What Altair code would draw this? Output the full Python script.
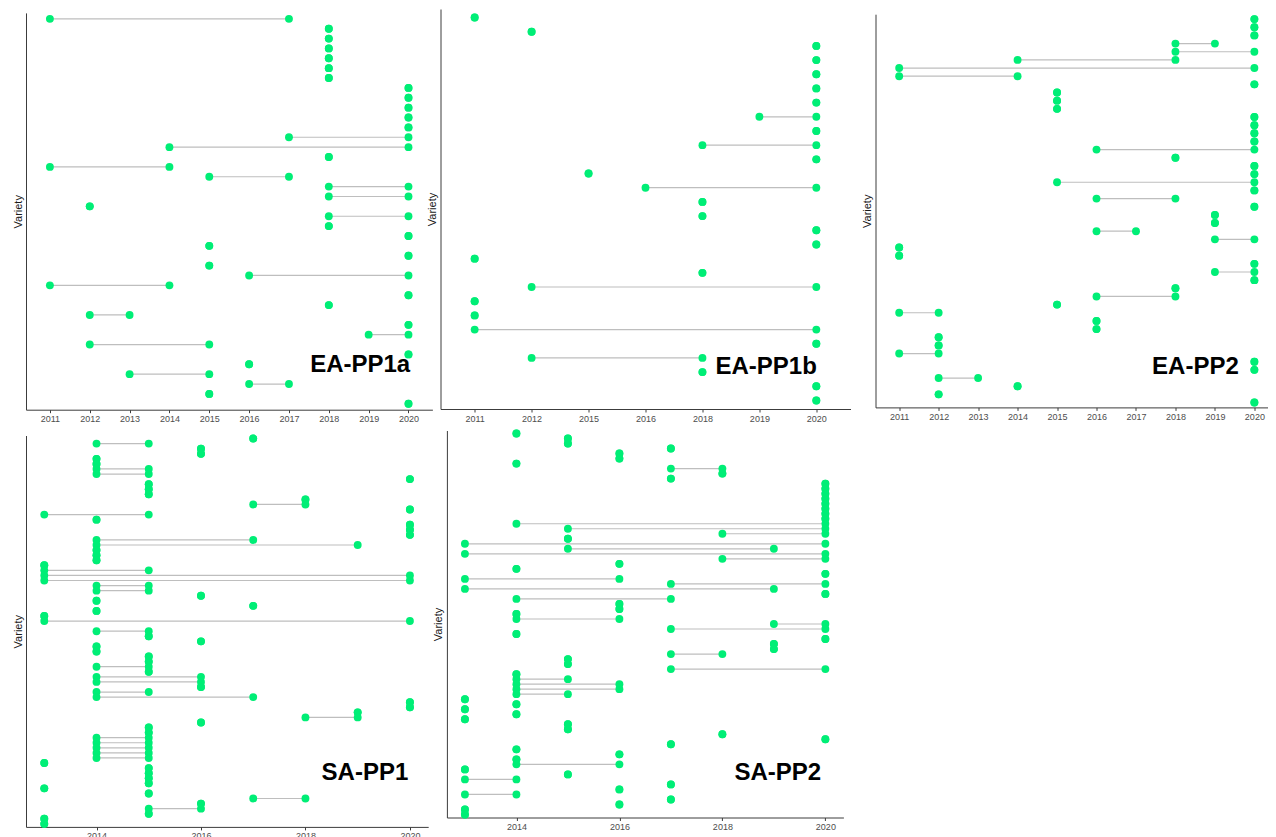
import altair as alt
import pandas as pd

# ---------------- data: first / last year of each variety (top row first) ----------------
ea1a_first = [2011, 2018, 2018, 2018, 2018, 2018, 2018, 2020, 2020, 2020,
              2020, 2020, 2017, 2014, 2018, 2011, 2015, 2018, 2018, 2012,
              2018, 2018, 2020, 2015, 2020, 2015, 2016, 2011, 2020, 2018,
              2012, 2020, 2019, 2012, 2020, 2016, 2013, 2016, 2015, 2020]
ea1a_last = [2017, 2018, 2018, 2018, 2018, 2018, 2018, 2020, 2020, 2020,
             2020, 2020, 2020, 2020, 2018, 2014, 2017, 2020, 2020, 2012,
             2020, 2018, 2020, 2015, 2020, 2015, 2020, 2014, 2020, 2018,
             2013, 2020, 2020, 2015, 2020, 2016, 2015, 2017, 2015, 2020]

ea1b_first = [2011, 2012, 2020, 2020, 2020, 2020, 2020, 2019, 2020, 2018,
              2020, 2015, 2016, 2018, 2018, 2020, 2020, 2011, 2018, 2012,
              2011, 2011, 2011, 2020, 2012, 2018, 2020, 2020]
ea1b_last = [2011, 2012, 2020, 2020, 2020, 2020, 2020, 2020, 2020, 2020,
             2020, 2015, 2020, 2018, 2018, 2020, 2020, 2011, 2018, 2020,
             2011, 2011, 2020, 2020, 2018, 2018, 2020, 2020]

ea2_first = [2020, 2020, 2020, 2018, 2018, 2014, 2011, 2011, 2020, 2015,
             2015, 2015, 2020, 2020, 2020, 2020, 2016, 2018, 2020, 2020,
             2015, 2020, 2016, 2020, 2019, 2019, 2016, 2019, 2011, 2011,
             2020, 2019, 2020, 2018, 2016, 2015, 2011, 2016, 2016, 2012,
             2012, 2011, 2020, 2020, 2012, 2014, 2012, 2020]
ea2_last = [2020, 2020, 2020, 2019, 2020, 2018, 2020, 2014, 2020, 2015,
            2015, 2015, 2020, 2020, 2020, 2020, 2020, 2018, 2020, 2020,
            2020, 2020, 2018, 2020, 2019, 2019, 2017, 2020, 2011, 2011,
            2020, 2020, 2020, 2018, 2018, 2015, 2012, 2016, 2016, 2012,
            2012, 2012, 2020, 2020, 2013, 2014, 2012, 2020]

sa1_first = [2017, 2014, 2016, 2016, 2014, 2014, 2014, 2014, 2020, 2015,
             2015, 2015, 2018, 2017, 2020, 2013, 2014, 2020, 2020, 2020,
             2014, 2014, 2014, 2014, 2014, 2013, 2013, 2013, 2013, 2014,
             2014, 2016, 2014, 2017, 2014, 2013, 2013, None, 2014, 2015,
             2016, 2014, 2014, 2015, 2015, 2014, 2015, 2014, 2014, 2016,
             2014, 2014, 2020, 2020, 2019, 2018, 2016, 2015, 2015, 2014,
             2014, 2014, 2014, 2014, 2013, 2015, 2015, 2015, 2015, 2013,
             2015, 2017, 2016, 2015, 2015, 2013, 2013]
sa1_last = [2017, 2015, 2016, 2016, 2014, 2014, 2015, 2015, 2020, 2015,
            2015, 2015, 2018, 2018, 2020, 2015, 2014, 2020, 2020, 2020,
            2017, 2019, 2014, 2014, 2014, 2013, 2015, 2020, 2020, 2015,
            2015, 2016, 2014, 2017, 2014, 2013, 2020, None, 2015, 2015,
            2016, 2014, 2014, 2015, 2015, 2015, 2015, 2016, 2016, 2016,
            2015, 2017, 2020, 2020, 2019, 2019, 2016, 2015, 2015, 2015,
            2015, 2015, 2015, 2015, 2013, 2015, 2015, 2015, 2015, 2013,
            2015, 2018, 2016, 2016, 2015, 2013, 2013]

sa2_first = [2014, 2015, 2015, 2017, 2016, 2016, 2014, 2017, 2018, 2017,
             2020, 2020, 2020, 2020, 2020, 2020, 2020, 2020, 2014, 2015,
             2018, 2015, 2013, 2015, 2013, 2018, 2016, 2014, 2020, 2013,
             2017, 2013, 2020, 2014, 2016, 2016, 2014, 2014, 2019, 2017,
             2014, 2020, 2019, 2019, 2017, 2015, 2015, 2017, 2014, 2014,
             2014, 2014, 2014, 2013, 2014, 2013, 2014, 2013, 2015, 2015,
             2018, 2020, 2017, 2014, 2016, 2014, 2014, 2013, 2015, 2013,
             2017, 2016, 2013, 2017, 2016, 2013, 2013]
sa2_last = [2014, 2015, 2015, 2017, 2016, 2016, 2014, 2018, 2018, 2017,
            2020, 2020, 2020, 2020, 2020, 2020, 2020, 2020, 2020, 2020,
            2020, 2015, 2020, 2019, 2020, 2020, 2016, 2014, 2020, 2016,
            2020, 2019, 2020, 2017, 2016, 2016, 2014, 2016, 2020, 2020,
            2014, 2020, 2019, 2019, 2018, 2015, 2015, 2020, 2014, 2015,
            2016, 2016, 2015, 2013, 2014, 2013, 2014, 2013, 2015, 2015,
            2018, 2020, 2017, 2014, 2016, 2014, 2016, 2013, 2015, 2014,
            2017, 2016, 2014, 2017, 2016, 2013, 2013]

ea_ticks = [2011, 2012, 2013, 2014, 2015, 2016, 2017, 2018, 2019, 2020]
ea1b_ticks = [2011, 2012, 2015, 2016, 2018, 2019, 2020]
sa_ticks = [2014, 2016, 2018, 2020]

GREEN = "#00EE76"
GREY = "#BEBEBE"
FONT = "Liberation Sans"
AXIS_COLOR = "#3C3C3C"


def make_panel(name, first, last, ticks, xdomain, width, height, yrange,
               label_x, label_y, categorical=False):
    n = len(first)
    varieties = [f"{name} {i + 1:02d}" for i in range(n)]
    if categorical:
        xs = [ticks.index(v) if v is not None else None for v in first]
        xe = [ticks.index(v) if v is not None else None for v in last]
        labels = "[" + ",".join(f"'{t}'" for t in ticks) + "][datum.value]"
        xaxis = alt.Axis(values=list(range(len(ticks))), labelExpr=labels)
    else:
        xs, xe = first, last
        xaxis = alt.Axis(values=ticks, format="d")
    xaxis = xaxis.copy()
    xaxis.title = None
    xaxis.grid = False
    xaxis.tickSize = 3
    xaxis.tickColor = AXIS_COLOR
    xaxis.domainColor = AXIS_COLOR
    xaxis.labelColor = "#4D4D4D"
    xaxis.labelFontSize = 9
    xaxis.labelFont = FONT
    xaxis.labelPadding = 2
    xaxis.labelFlush = False
    xaxis.labelOverlap = False

    df = pd.DataFrame({"Variety": varieties, "first": xs, "last": xe})
    xscale = alt.Scale(domain=xdomain, nice=False, zero=False)
    yenc = alt.Y(
        "Variety:N", sort=None,
        scale=alt.Scale(type="point", domain=varieties, range=yrange, padding=0.6),
        axis=alt.Axis(title="Variety", labels=False, ticks=False, grid=False,
                      domainColor=AXIS_COLOR, titleFont=FONT, titleFontSize=11,
                      titleFontWeight="normal", titleColor="#1A1A1A", titlePadding=3),
    )
    base = alt.Chart(df)
    rules = base.mark_rule(color=GREY, strokeWidth=1.2).encode(
        x=alt.X("first:Q", scale=xscale, axis=xaxis), x2="last:Q", y=yenc)
    points = base.transform_fold(["first", "last"], as_=["end", "year"]).mark_circle(
        size=62, color=GREEN, opacity=1).encode(
        x=alt.X("year:Q", scale=xscale, axis=xaxis), y=yenc)
    label = alt.Chart(pd.DataFrame({"label": [name]})).mark_text(
        align="right", baseline="alphabetic", font=FONT, fontSize=24,
        fontWeight="bold", color="black").encode(
        x=alt.value(label_x), y=alt.value(label_y), text="label:N")
    return alt.layer(rules, points, label).properties(width=width, height=height)


pa = make_panel("EA-PP1a", ea1a_first, ea1a_last, ea_ticks, [2010.4, 2020.6],
                406.4, 400.7, [3.9, 400.7], 384.2, 362.5)
pb = make_panel("EA-PP1b", ea1b_first, ea1b_last, ea1b_ticks, [-0.6, 6.6],
                410, 400, [0, 400], 376.3, 364.8, categorical=True)
pc = make_panel("EA-PP2", ea2_first, ea2_last, ea_ticks, [2010.4, 2020.34],
                392.3, 398.4, [5.2, 398.4], 363.3, 365.1)
pd_ = make_panel("SA-PP1", sa1_first, sa1_last, sa_ticks, [2012.65, 2020.35],
                 402.2, 396.4, [5.0, 396.4], 382.3, 349)
pe = make_panel("SA-PP2", sa2_first, sa2_last, sa_ticks, [2012.65, 2020.35],
                396.5, 387, [0, 387], 374.2, 349)

spacer = alt.Chart(pd.DataFrame({"v": [0]})).mark_point(opacity=0).encode(
    x=alt.X("v:Q", axis=None), y=alt.Y("v:Q", axis=None)).properties(width=10, height=10)

top = alt.hconcat(pa, pb, spacer, pc, spacing=7.5, bounds="flush")
bottom = alt.hconcat(pd_, pe, spacing=17.9, bounds="flush")

chart = alt.vconcat(top, bottom, spacing=5.5).properties(
    padding={"left": 4, "top": 1, "right": 0, "bottom": 0}
).configure(background="white").configure_view(stroke=None)

chart.save("out.html", embed_options={"renderer": "svg", "actions": False})
